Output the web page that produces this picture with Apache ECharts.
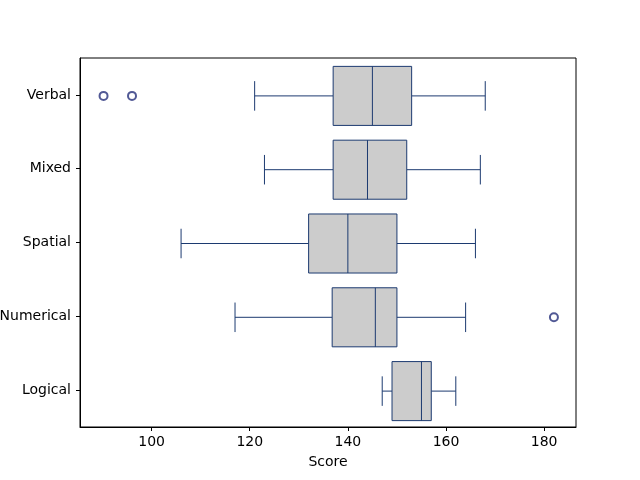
<!DOCTYPE html>
<html>
<head>
<meta charset="utf-8">
<script src="https://cdn.jsdelivr.net/npm/echarts@6/dist/echarts.min.js"></script>
<style>html,body{margin:0;padding:0;background:#fff;}#c{width:640px;height:480px;}</style>
</head>
<body>
<div id="c"></div>
<script>
const categories = ['Verbal', 'Mixed', 'Spatial', 'Numerical', 'Logical'];
const lowWhisker = [121, 123, 106, 117, 147];
const q1 = [137, 137, 132, 136.8, 149];
const median = [145, 144, 140, 145.6, 155];
const q3 = [153, 152, 150, 150, 157];
const highWhisker = [168, 167, 166, 164, 162];
const outlierCategory = ['Verbal', 'Verbal', 'Numerical'];
const outlierValue = [90.2, 96, 182];
const xTicks = [100, 120, 140, 160, 180];

const lineColor = '#1c3a70';
const markerColor = '#26307a';

const boxData = categories.map((c, i) => [i, lowWhisker[i], q1[i], median[i], q3[i], highWhisker[i]]);
const outlierData = outlierValue.map((v, i) => [v, categories.indexOf(outlierCategory[i])]);

const chart = echarts.init(document.getElementById('c'));
chart.setOption({
  animation: false,
  backgroundColor: '#fff',
  textStyle: { fontFamily: 'DejaVu Sans' },
  grid: { left: 80, right: 64, top: 58, bottom: 53, show: true, borderColor: '#000', borderWidth: 1, backgroundColor: 'transparent', containLabel: false, outerBoundsMode: 'none' },
  xAxis: {
    type: 'value', min: 85.4, max: 186.5,
    name: 'Score', nameLocation: 'middle', nameGap: 28,
    nameTextStyle: { color: '#000', fontSize: 14, fontFamily: 'DejaVu Sans' },
    axisLine: { show: true, lineStyle: { color: '#000', width: 1 } },
    axisTick: { show: true, length: 4, customValues: xTicks, lineStyle: { color: '#000' } },
    axisLabel: { customValues: xTicks, color: '#000', fontSize: 14, margin: 8, fontFamily: 'DejaVu Sans' },
    splitLine: { show: false }
  },
  yAxis: {
    type: 'category', data: categories, inverse: true,
    axisLine: { show: true, lineStyle: { color: '#000', width: 1 } },
    axisTick: { show: true, length: 4, alignWithLabel: true, lineStyle: { color: '#000' } },
    axisLabel: { color: '#000', fontSize: 14, margin: 9, fontFamily: 'DejaVu Sans' },
    splitLine: { show: false }
  },
  series: [
    {
      type: 'custom',
      data: boxData,
      encode: { x: [1, 2, 3, 4, 5], y: 0 },
      renderItem: function (params, api) {
        const cat = api.value(0);
        const band = api.size([0, 1])[1];
        const hb = band * 0.4;
        const hc = band * 0.2;
        const pLow = api.coord([api.value(1), cat]);
        const pQ1 = api.coord([api.value(2), cat]);
        const pMed = api.coord([api.value(3), cat]);
        const pQ3 = api.coord([api.value(4), cat]);
        const pHigh = api.coord([api.value(5), cat]);
        const y = pQ1[1] + 1;
        const ls = { stroke: lineColor, lineWidth: 1, fill: null };
        return {
          type: 'group',
          children: [
            { type: 'line', shape: { x1: pLow[0], y1: y, x2: pQ1[0], y2: y }, style: ls },
            { type: 'line', shape: { x1: pQ3[0], y1: y, x2: pHigh[0], y2: y }, style: ls },
            { type: 'line', shape: { x1: pLow[0], y1: y - hc, x2: pLow[0], y2: y + hc }, style: ls },
            { type: 'line', shape: { x1: pHigh[0], y1: y - hc, x2: pHigh[0], y2: y + hc }, style: ls },
            { type: 'rect', shape: { x: pQ1[0], y: y - hb, width: pQ3[0] - pQ1[0], height: hb * 2 }, style: { fill: '#cccccc', stroke: lineColor, lineWidth: 1 } },
            { type: 'line', shape: { x1: pMed[0], y1: y - hb, x2: pMed[0], y2: y + hb }, style: ls }
          ]
        };
      }
    },
    {
      type: 'scatter',
      data: outlierData,
      symbol: 'emptyCircle',
      symbolSize: 8,
      symbolOffset: [0, 1],
      itemStyle: { color: markerColor, borderColor: markerColor, borderWidth: 1 }
    }
  ]
});
</script>
</body>
</html>
